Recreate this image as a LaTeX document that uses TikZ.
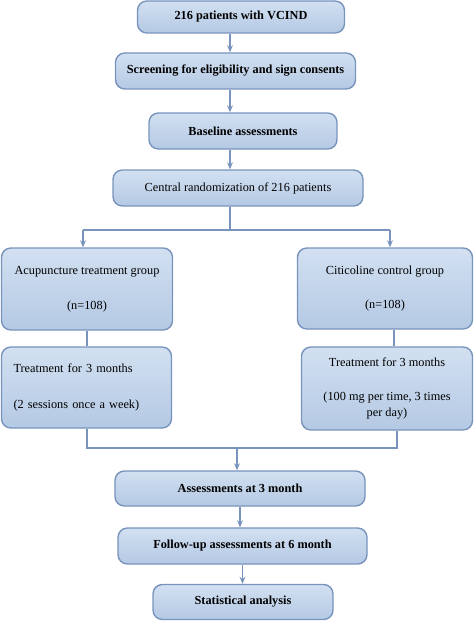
\documentclass[tikz,border=0pt]{standalone}
\usepackage{fontspec}
\setmainfont{Liberation Serif}
\usetikzlibrary{arrows.meta}
\definecolor{boxline}{HTML}{7893BC}
\definecolor{boxtop}{HTML}{D2E0F1}
\definecolor{boxbot}{HTML}{B4C9E4}
\tikzset{
  box/.style={draw=boxline, line width=1.2pt, rounded corners=8pt,
    top color=boxtop, bottom color=boxbot, inner sep=0pt,
    font=\fontsize{10.5}{13.5}\selectfont\bfseries, align=center},
  groupbox/.style={box, font=\fontsize{10.5}{13.5}\selectfont},
  link/.style={draw=boxline, line width=1.3pt},
  linkarrow/.style={link, -{Stealth[length=6pt,width=5pt]}}
}
\begin{document}
\begin{tikzpicture}[x=0.03cm,y=-0.03cm]
      \useasboundingbox (0,0) rectangle (474,621);
      % main column
      \node[box, minimum width=207*0.03cm, minimum height=32*0.03cm] (patients) at (241,17) {216 patients with VCIND};
      \node[box, minimum width=240*0.03cm, minimum height=36*0.03cm] (screen) at (235.5,71) {Screening for eligibility and sign consents};
      \node[box, minimum width=188*0.03cm, minimum height=36*0.03cm] (baseline) at (243,131) {Baseline assessments};
      \node[groupbox, minimum width=250*0.03cm, minimum height=36*0.03cm] (random) at (238,188) {Central randomization of 216 patients};
      % two arms
      \node[groupbox, minimum width=171*0.03cm, minimum height=82*0.03cm] (acugroup) at (87,289) {Acupuncture treatment group\\[16pt](n=108)};
      \node[groupbox, minimum width=175*0.03cm, minimum height=81*0.03cm] (citigroup) at (385,288.5) {Citicoline control group\\[16pt](n=108)};
      \node[groupbox, minimum width=170*0.03cm, minimum height=81*0.03cm, text width=146*0.03cm, align=left] (acutreat) at (86.5,387.5) {Treatment for 3 months\\[18pt](2 sessions once a week)};
      \node[groupbox, minimum width=171*0.03cm, minimum height=83*0.03cm] (crittreat) at (387,388.5) {Treatment for 3 months\\[16pt](100 mg per time, 3 times\\per day)};
      % follow-up
      \node[box, minimum width=250*0.03cm, minimum height=35*0.03cm] (assess3) at (240,488.5) {Assessments at 3 month};
      \node[box, minimum width=249*0.03cm, minimum height=36*0.03cm] (assess6) at (242.5,546) {Follow-up assessments at 6 month};
      \node[box, minimum width=180*0.03cm, minimum height=35*0.03cm] (stats) at (243,602) {Statistical analysis};

      \coordinate (col) at (230,0);
      \coordinate (split) at (230,230);
      \coordinate (splitl) at (83,230);
      \coordinate (splitr) at (390,230);
      \coordinate (rcol) at (394,0);
      \coordinate (mergel) at (87,448);
      \coordinate (merger) at (397,448);
      \coordinate (merge) at (237,448);

      \draw[linkarrow] (patients.south -| col) -- (screen.north -| col);
      \draw[linkarrow] (screen.south -| col) -- (baseline.north -| col);
      \draw[linkarrow] (baseline.south -| col) -- (random.north -| col);
      \draw[link] (random.south -| col) -- (split);
      \draw[link] (splitl) -- (splitr);
      \draw[linkarrow] (splitl) -- (splitl |- acugroup.north);
      \draw[linkarrow] (splitr) -- (splitr |- citigroup.north);
      \draw[link] (acugroup.south) -- (acugroup.south |- acutreat.north);
      \draw[link] (citigroup.south -| rcol) -- (crittreat.north -| rcol);
      \draw[link] (acutreat.south -| mergel) -- (mergel) -- (merger) -- (crittreat.south -| merger);
      \draw[linkarrow] (merge) -- (merge |- assess3.north);
      \draw[linkarrow] (assess3.south) -- (assess3.south |- assess6.north);
      \draw[linkarrow] (assess6.south) -- (assess6.south |- stats.north);
    \end{tikzpicture}
\end{document}
